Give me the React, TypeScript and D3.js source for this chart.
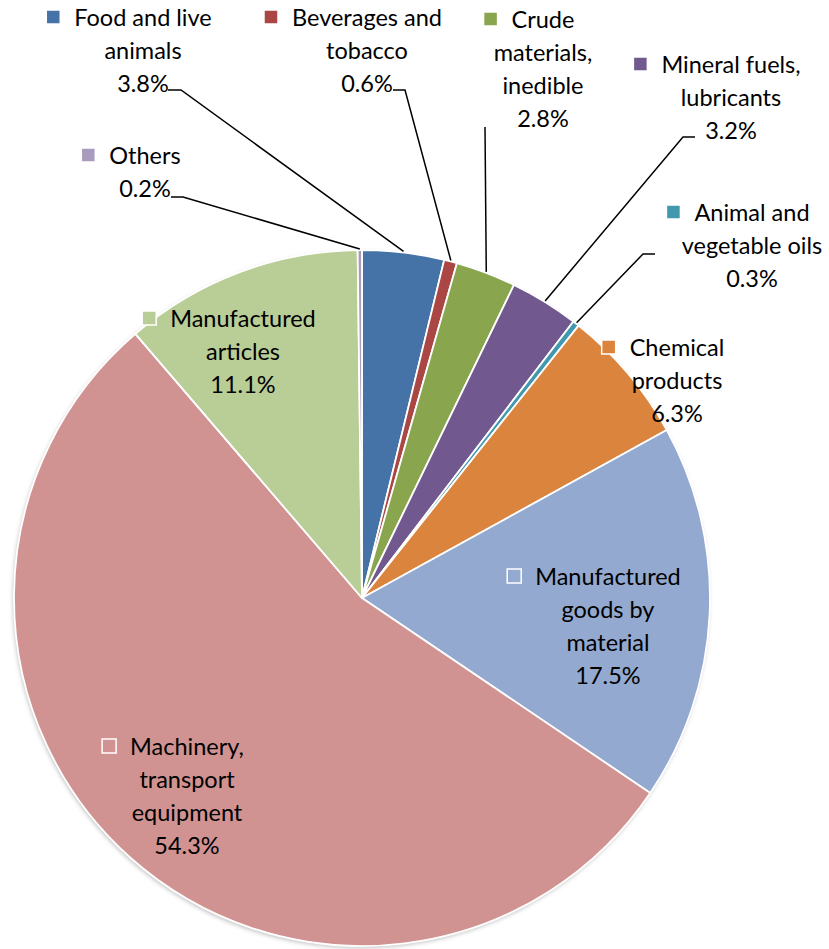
import { useRef, useEffect } from 'react';
import * as d3 from 'd3';

// trade shares by commodity group, clockwise from 12 o'clock
const categories = [
  'Food and live animals',
  'Beverages and tobacco',
  'Crude materials, inedible',
  'Mineral fuels, lubricants',
  'Animal and vegetable oils',
  'Chemical products',
  'Manufactured goods by material',
  'Machinery, transport equipment',
  'Manufactured articles',
  'Others',
];
const shares = [3.8, 0.6, 2.8, 3.2, 0.3, 6.3, 17.5, 54.3, 11.1, 0.2];
const labelLines = [
  ['Food and live', 'animals'],
  ['Beverages and', 'tobacco'],
  ['Crude', 'materials,', 'inedible'],
  ['Mineral fuels,', 'lubricants'],
  ['Animal and', 'vegetable oils'],
  ['Chemical', 'products'],
  ['Manufactured', 'goods by', 'material'],
  ['Machinery,', 'transport', 'equipment'],
  ['Manufactured', 'articles'],
  ['Others'],
];
const colors = [
  '#4572A7', '#AA4643', '#89A54E', '#71588F', '#4198AF',
  '#DB843D', '#93A9CF', '#D19392', '#B9CD96', '#A99BBD',
];

// label placement (center x, first line y, leader points on the label side)
const labelLayout: { x: number; y: number; leader?: [number, number][] }[] = [
  { x: 143, y: 18, leader: [[168, 90], [181, 90]] },
  { x: 367, y: 18, leader: [[393, 90], [405, 90]] },
  { x: 543, y: 20, leader: [[485, 127]] },
  { x: 731, y: 65, leader: [[695, 137], [683, 137]] },
  { x: 752, y: 213, leader: [[655, 254], [643, 254]] },
  { x: 677, y: 348 },
  { x: 608, y: 577 },
  { x: 187, y: 747 },
  { x: 243, y: 319 },
  { x: 145, y: 156, leader: [[171, 197], [183, 197]] },
];

const W = 829;
const H = 949;
const FONT = 'Lato, "Open Sans", sans-serif';

export default function App() {
  const svgRef = useRef<SVGSVGElement>(null);

  useEffect(() => {
    const svg = d3.select(svgRef.current);
    svg.selectAll('*').remove();

    const cx = 362;
    const cy = 598;
    const r = 348;

    const defs = svg.append('defs');
    const f = defs.append('filter').attr('id', 'shadow').attr('x', '-10%').attr('y', '-10%').attr('width', '120%').attr('height', '120%');
    f.append('feDropShadow').attr('dx', -1).attr('dy', 2).attr('stdDeviation', 2).attr('flood-color', '#000').attr('flood-opacity', 0.25);

    const pie = d3.pie<number>().value(d => d).sort(null);
    const arcs = pie(shares);
    const arc = d3.arc<d3.PieArcDatum<number>>().innerRadius(0).outerRadius(r);

    const g = svg.append('g').attr('transform', `translate(${cx},${cy})`);
    g.append('circle').attr('r', r).attr('fill', '#fff').attr('filter', 'url(#shadow)');
    g.selectAll('path.slice')
      .data(arcs)
      .join('path')
      .attr('class', 'slice')
      .attr('d', arc)
      .attr('fill', (_d, i) => colors[i])
      .attr('stroke', '#fff')
      .attr('stroke-width', 1.8)
      .attr('stroke-linejoin', 'round');

    // leader lines
    arcs.forEach((a, i) => {
      const lay = labelLayout[i];
      if (!lay.leader) return;
      const mid = (a.startAngle + a.endAngle) / 2;
      const end: [number, number] = [cx + (r + 1) * Math.sin(mid), cy - (r + 1) * Math.cos(mid)];
      const pts = [...lay.leader, end];
      svg.append('path')
        .attr('d', d3.line()(pts as [number, number][]))
        .attr('fill', 'none')
        .attr('stroke', '#000')
        .attr('stroke-width', 1.5);
    });

    // labels
    const lineH = 33;
    arcs.forEach((_a, i) => {
      const lay = labelLayout[i];
      const lines = [...labelLines[i], `${shares[i].toFixed(1)}%`];
      const t = svg.append('text')
        .attr('font-family', FONT)
        .attr('font-size', 23.5)
        .attr('fill', '#000')
        .attr('text-anchor', 'middle');
      const spans = lines.map((ln, k) =>
        t.append('tspan')
          .attr('x', lay.x)
          .attr('y', lay.y + k * lineH)
          .attr('dy', '0.35em')
          .text(ln)
      );
      const w0 = (spans[0].node() as SVGTextContentElement).getComputedTextLength();
      const size = 14;
      svg.append('rect')
        .attr('x', lay.x - w0 / 2 - 14 - size)
        .attr('y', lay.y - size / 2 - 1)
        .attr('width', size)
        .attr('height', size)
        .attr('fill', colors[i])
        .attr('stroke', '#fff')
        .attr('stroke-width', 1.5)
        .append('title').text(categories[i]);
    });
  }, []);

  return (
    <svg
      ref={svgRef}
      width={W}
      height={H}
      style={{ position: 'absolute', left: 0, top: 0, background: '#fff' }}
    />
  );
}
